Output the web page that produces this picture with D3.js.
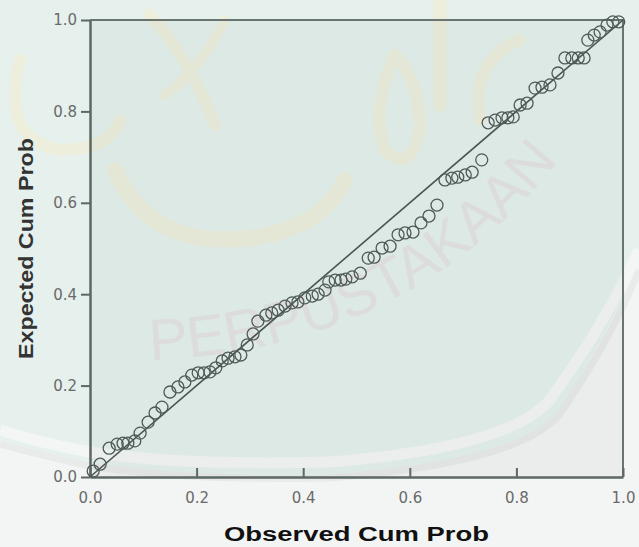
<!DOCTYPE html>
<html>
<head>
<meta charset="utf-8">
<script src="https://cdn.jsdelivr.net/npm/d3@7"></script>
<style>
  html, body { margin: 0; padding: 0; background: #f3f5f4; }
  svg { display: block; }
</style>
</head>
<body>
<svg id="chart"></svg>
<script>
// observed vs expected cumulative probabilities
const observedCumProb = [
  0.006, 0.019, 0.036, 0.051, 0.062, 0.071, 0.084, 0.094, 0.109, 0.122,
  0.135, 0.150, 0.165, 0.178, 0.191, 0.203, 0.214, 0.225, 0.236, 0.248,
  0.259, 0.272, 0.283, 0.295, 0.306, 0.315, 0.330, 0.341, 0.353, 0.366,
  0.379, 0.390, 0.403, 0.417, 0.428, 0.441, 0.448, 0.460, 0.471, 0.480,
  0.492, 0.507, 0.522, 0.533, 0.548, 0.563, 0.578, 0.591, 0.606, 0.621,
  0.636, 0.651, 0.666, 0.679, 0.690, 0.704, 0.717, 0.735, 0.747, 0.760,
  0.773, 0.784, 0.794, 0.807, 0.820, 0.835, 0.848, 0.863, 0.878, 0.891,
  0.904, 0.916, 0.927, 0.934, 0.946, 0.957, 0.970, 0.981, 0.992
];
const expectedCumProb = [
  0.013, 0.028, 0.063, 0.072, 0.074, 0.074, 0.079, 0.096, 0.120, 0.140,
  0.153, 0.186, 0.197, 0.208, 0.223, 0.228, 0.228, 0.230, 0.239, 0.254,
  0.260, 0.263, 0.267, 0.289, 0.313, 0.341, 0.354, 0.359, 0.365, 0.374,
  0.381, 0.383, 0.392, 0.396, 0.400, 0.409, 0.427, 0.431, 0.431, 0.433,
  0.438, 0.446, 0.479, 0.481, 0.501, 0.505, 0.530, 0.534, 0.536, 0.556,
  0.571, 0.595, 0.650, 0.654, 0.656, 0.661, 0.667, 0.694, 0.775, 0.781,
  0.786, 0.786, 0.788, 0.814, 0.818, 0.851, 0.853, 0.858, 0.884, 0.917,
  0.917, 0.917, 0.917, 0.956, 0.967, 0.974, 0.989, 0.996, 0.996
];
const tickValues = [0, 0.2, 0.4, 0.6, 0.8, 1.0];
const xTitle = "Observed Cum Prob";
const yTitle = "Expected Cum Prob";

const totalWidth = 639, totalHeight = 547;
const margin = { top: 20, right: 16, bottom: 70, left: 90 };
const width = totalWidth - margin.left - margin.right;
const height = totalHeight - margin.top - margin.bottom;

const svg = d3.select("#chart")
  .attr("width", totalWidth)
  .attr("height", totalHeight);

// --- faint watermark behind the chart ---
const wm = svg.append("g");
wm.append("path")
  .attr("d", "M0,0 L639,0 L639,262 Q610,330 560,410 Q520,460 330,476 Q180,478 90,463 Q40,452 0,440 Z")
  .attr("fill", "#e6f1ed");
wm.append("path")
  .attr("d", "M639,250 Q605,325 548,402 Q505,448 330,462 Q180,466 90,452 Q40,443 0,430")
  .attr("fill", "none")
  .attr("stroke", "#f4f6f5")
  .attr("stroke-width", 11);
wm.append("path")
  .attr("d", "M639,270 Q612,338 560,414 Q520,463 330,478 Q180,481 90,466 Q40,455 0,444")
  .attr("fill", "none")
  .attr("stroke", "#e9ebea")
  .attr("stroke-width", 7);

const callig = wm.append("g")
  .attr("fill", "none")
  .attr("stroke", "#f3eed2")
  .attr("stroke-linecap", "round")
  .attr("opacity", 0.6);
callig.append("path").attr("d", "M115,170 Q150,250 250,238 Q320,230 345,180").attr("stroke-width", 16);
callig.append("path").attr("d", "M150,15 Q190,60 215,125").attr("stroke-width", 12);
callig.append("path").attr("d", "M225,20 Q200,70 165,95").attr("stroke-width", 10);
callig.append("path").attr("d", "M440,0 L440,105").attr("stroke-width", 14);
callig.append("path").attr("d", "M395,55 Q370,110 385,150 Q410,175 420,130 Q420,80 395,55").attr("stroke-width", 12);
callig.append("path").attr("d", "M20,60 Q0,140 60,150 Q110,150 120,120").attr("stroke-width", 12);
callig.append("path").attr("d", "M520,40 Q470,60 480,120").attr("stroke-width", 12);

wm.append("path")
  .attr("id", "wmArc")
  .attr("d", "M150,360 Q430,350 585,125")
  .attr("fill", "none");
wm.append("text")
  .attr("font-family", "Liberation Sans, Arial, sans-serif")
  .attr("font-size", 58)
  .attr("fill", "#e3c9cf")
  .attr("opacity", 0.3)
  .append("textPath")
  .attr("href", "#wmArc")
  .attr("textLength", 470)
  .attr("lengthAdjust", "spacingAndGlyphs")
  .text("PERPUSTAKAAN");

// --- chart ---
const g = svg.append("g")
  .attr("transform", `translate(${margin.left},${margin.top})`);

const x = d3.scaleLinear().domain([0, 1]).range([0, width]);
const y = d3.scaleLinear().domain([0, 1]).range([height, 0]);

g.append("rect")
  .attr("width", width)
  .attr("height", height)
  .attr("fill", "rgb(0,40,20)")
  .attr("fill-opacity", 0.035);

// top and right frame
g.append("path")
  .attr("d", `M0,${y(1)} L${x(1)},${y(1)} L${x(1)},${y(0)}`)
  .attr("fill", "none")
  .attr("stroke", "#6a7470")
  .attr("stroke-width", 2);

const xAxis = g.append("g")
  .attr("transform", `translate(0,${height})`)
  .call(d3.axisBottom(x).tickValues(tickValues).tickFormat(d3.format(".1f"))
    .tickSize(9).tickSizeOuter(0).tickPadding(6));

const yAxis = g.append("g")
  .call(d3.axisLeft(y).tickValues(tickValues).tickFormat(d3.format(".1f"))
    .tickSize(9).tickSizeOuter(0).tickPadding(4));

[xAxis, yAxis].forEach(ax => {
  ax.select(".domain").attr("stroke", "#5d6763").attr("stroke-width", 2.5);
  ax.selectAll(".tick line").attr("stroke", "#5d6763").attr("stroke-width", 2);
  ax.selectAll(".tick text")
    .attr("fill", "#6a6a6a")
    .attr("font-family", "DejaVu Sans, sans-serif")
    .attr("font-size", 15);
});
xAxis.selectAll(".tick line").attr("transform", "translate(0,-9)");
yAxis.selectAll(".tick line").attr("x1", 0);

// reference line
g.append("line")
  .attr("x1", x(0)).attr("y1", y(0))
  .attr("x2", x(1)).attr("y2", y(1))
  .attr("stroke", "#4b5450")
  .attr("stroke-width", 1.6);

const points = observedCumProb.map((d, i) => ({ obs: d, exp: expectedCumProb[i] }));

g.selectAll("circle.pt")
  .data(points)
  .enter()
  .append("circle")
  .attr("class", "pt")
  .attr("cx", d => x(d.obs))
  .attr("cy", d => y(d.exp))
  .attr("r", 6)
  .attr("fill", "none")
  .attr("stroke", "#505a55")
  .attr("stroke-width", 1.3);

// axis titles
svg.append("text")
  .attr("x", margin.left + width / 2)
  .attr("y", 541)
  .attr("text-anchor", "middle")
  .attr("font-family", "Liberation Sans, Arial, sans-serif")
  .attr("font-weight", "bold")
  .attr("font-size", 20)
  .attr("fill", "#111")
  .attr("textLength", 265)
  .attr("lengthAdjust", "spacingAndGlyphs")
  .text(xTitle);

svg.append("text")
  .attr("transform", `translate(33,${margin.top + height / 2}) rotate(-90)`)
  .attr("text-anchor", "middle")
  .attr("font-family", "Liberation Sans, Arial, sans-serif")
  .attr("font-weight", "bold")
  .attr("font-size", 21)
  .attr("fill", "#333")
  .attr("textLength", 221)
  .attr("lengthAdjust", "spacingAndGlyphs")
  .text(yTitle);
</script>
</body>
</html>
